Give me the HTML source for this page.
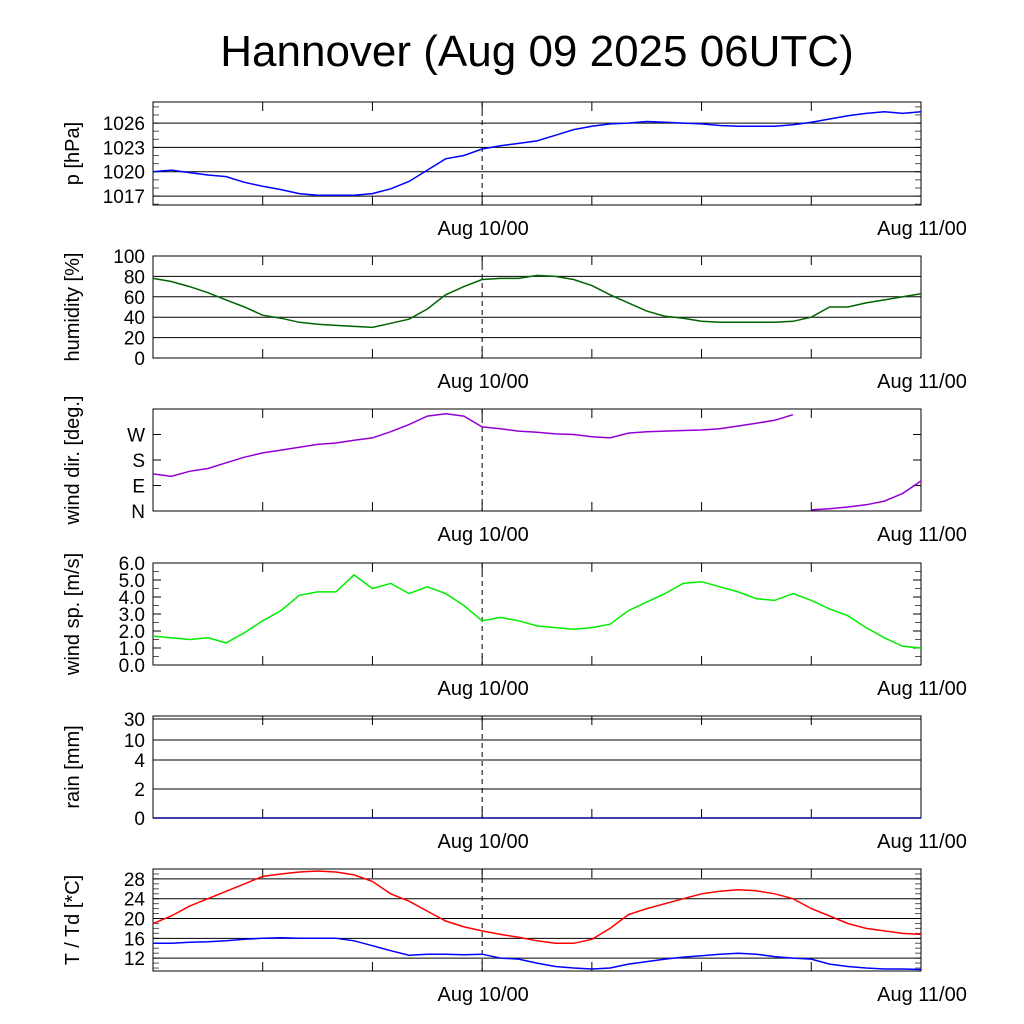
<!DOCTYPE html>
<html><head><meta charset="utf-8"><style>
body{margin:0;background:#fff;}
svg{display:block;font-family:"Liberation Sans",sans-serif;}
</style></head><body>
<svg id="c" width="1024" height="1024" viewBox="0 0 1024 1024">
<text x="537" y="66" font-size="44" text-anchor="middle">Hannover (Aug 09 2025 06UTC)</text>
</svg>
<script>
const hours = [0,1,2,3,4,5,6,7,8,9,10,11,12,13,14,15,16,17,18,19,20,21,22,23,24,25,26,27,28,29,30,31,32,33,34,35,36,37,38,39,40,41,42];
const pressure = [1020.0,1020.2,1019.9,1019.6,1019.4,1018.7,1018.2,1017.8,1017.3,1017.1,1017.1,1017.1,1017.3,1017.9,1018.8,1020.2,1021.6,1022.0,1022.8,1023.2,1023.5,1023.8,1024.5,1025.2,1025.6,1025.9,1026.0,1026.2,1026.1,1026.0,1025.9,1025.7,1025.6,1025.6,1025.6,1025.8,1026.1,1026.5,1026.9,1027.2,1027.4,1027.2,1027.4];
const humidity = [78,75,70,64,57,50,42,39,35,33,32,31,30,34,38,48,62,70,77,78,78,81,80,77,71,62,54,46,41,39,36,35,35,35,35,36,40,50,50,54,57,60,63];
const windDir = [131,122,140,150,170,190,205,215,225,235,240,250,258,280,305,335,343,335,297,290,282,278,272,270,262,258,275,280,282,284,286,290,300,310,320,340,4,8,14,22,35,62,106];
const windSpeed = [1.7,1.6,1.5,1.6,1.3,1.9,2.6,3.2,4.1,4.3,4.3,5.3,4.5,4.8,4.2,4.6,4.2,3.5,2.6,2.8,2.6,2.3,2.2,2.1,2.2,2.4,3.2,3.7,4.2,4.8,4.9,4.6,4.3,3.9,3.8,4.2,3.8,3.3,2.9,2.2,1.6,1.1,1.0];
const rain = [0,0,0,0,0,0,0,0,0,0,0,0,0,0,0,0,0,0,0,0,0,0,0,0,0,0,0,0,0,0,0,0,0,0,0,0,0,0,0,0,0,0,0];
const temp = [19,20.5,22.5,24,25.5,27,28.5,29,29.4,29.6,29.4,28.8,27.5,25,23.5,21.5,19.5,18.3,17.5,16.8,16.2,15.5,15,15,15.8,18,20.8,22,23,24,25,25.5,25.8,25.6,25,24,22,20.5,19,18,17.5,17,16.8];
const dewpoint = [15,15,15.2,15.3,15.5,15.8,16,16.1,16,16,16,15.5,14.5,13.5,12.6,12.8,12.8,12.7,12.8,12,11.8,11,10.3,10,9.8,10,10.8,11.3,11.8,12.2,12.5,12.8,13,12.8,12.3,12,11.8,10.8,10.3,10,9.8,9.8,9.7];
const pTicks = [1017,1020,1023,1026];
const hTicks = [0,20,40,60,80,100];
const dirTicks = [0,90,180,270];
const dirLabels = ["N","E","S","W"];
const wsTicks = [0,1,2,3,4,5,6];
const rainTickLabels = ["0","2","4","10","30"];
const rainTickPos = [0,0.284,0.569,0.765,0.971];
const tTicks = [12,16,20,24,28];
const xLabels = ["Aug 10/00","Aug 11/00"];
const xLabelHours = [18,42];

const svg=document.getElementById('c');
const NS='http://www.w3.org/2000/svg';
const X0=153,X1=921,H0=0,H1=42;
const xs=h=>X0+(h-H0)/(H1-H0)*(X1-X0);
function el(tag,attrs,parent){const e=document.createElementNS(NS,tag);for(const k in attrs)e.setAttribute(k,attrs[k]);(parent||svg).appendChild(e);return e;}

function panel(name,top,bot,ymin,ymax,title,ticks,labels,grid,minorStep,fmt){
  const g=el('g',{});
  
  
  const ys=v=>bot-(v-ymin)/(ymax-ymin)*(bot-top);
  if(minorStep){for(let v=Math.ceil(ymin/minorStep)*minorStep;v<=ymax;v+=minorStep){const y=ys(v);el('line',{x1:X0,x2:X0+6,y1:y,y2:y,stroke:'#555','stroke-width':1},g);el('line',{x1:X1-6,x2:X1,y1:y,y2:y,stroke:'#555','stroke-width':1},g);}}
  ticks.forEach((t,i)=>{const y=ys(t);
    if(grid) el('line',{x1:X0,x2:X1,y1:y,y2:y,stroke:'#000','stroke-width':1},g);
    else {el('line',{x1:X0,x2:X0+8,y1:y,y2:y,stroke:'#000'},g);el('line',{x1:X1-8,x2:X1,y1:y,y2:y,stroke:'#000'},g);}
    const tx=el('text',{x:X0-8,y:y+7,'font-size':19,'text-anchor':'end'},g);
    
    
    tx.textContent=labels?labels[i]:(fmt?fmt(t):t);});
  for(let h=6;h<H1;h+=6){const x=xs(h);el('line',{x1:x,x2:x,y1:bot,y2:bot-9,stroke:'#000'},g);el('line',{x1:x,x2:x,y1:top,y2:top+9,stroke:'#000'},g);}
  el('line',{x1:xs(18),x2:xs(18),y1:top,y2:bot,stroke:'#000','stroke-dasharray':'5,4'},g);
  el('rect',{x:X0,y:top,width:X1-X0,height:bot-top,fill:'none',stroke:'#000','stroke-width':1},g);
  xLabels.forEach((l,i)=>{const t=el('text',{x:xs(xLabelHours[i])+1,y:bot+30,'font-size':20,'text-anchor':'middle'},g);
    
    
    t.textContent=l;});
  const cy=(top+bot)/2;
  const yt=el('text',{x:0,y:0,'font-size':20,'text-anchor':'middle',transform:`translate(${X0-74},${cy}) rotate(-90)`},g);
  
  
  yt.textContent=title;
  return {g,ys,top,bot};
}
function series(p,vals,color,name,wrap){
  let d='',prev=null;
  vals.forEach((v,i)=>{const x=xs(hours[i]),y=p.ys(v);
    if(prev===null||(wrap&&Math.abs(v-prev)>180)) d+=`M${x.toFixed(1)},${y.toFixed(1)}`; else d+=`L${x.toFixed(1)},${y.toFixed(1)}`; prev=v;});
  const cp=el('clipPath',{id:'cp'+name},p.g);el('rect',{x:X0,y:p.top-1,width:X1-X0,height:p.bot-p.top+2},cp);
  const path=el('path',{d,fill:'none',stroke:color,'stroke-width':1.5,'clip-path':`url(#cp${name})`},p.g);
  
  
}
let p=panel('pressure',102,205,1015.9,1028.6,'p [hPa]',pTicks,null,true,1);
series(p,pressure,'#0000ff','pressure');
p=panel('humidity',256,358,0,100,'humidity [%]',hTicks,null,true,0);
series(p,humidity,'#006400','humidity');
p=panel('wind-direction',409,511,0,360,'wind dir. [deg.]',dirTicks,dirLabels,false,0);
series(p,windDir,'#9400d3','wind-direction',true);
p=panel('wind-speed',563,665,0,6,'wind sp. [m/s]',wsTicks,null,false,0.5,v=>v.toFixed(1));
series(p,windSpeed,'#00ee00','wind-speed');
p=panel('rain',716,818,0,1,'rain [mm]',rainTickPos,rainTickLabels,true,0);
series(p,rain,'#00008b','rain');
p=panel('temperature',869,971,9.4,30,'T / Td [*C]',tTicks,null,true,1);
series(p,temp,'#ff0000','temperature');
series(p,dewpoint,'#0000ff','dewpoint');
</script>
</body></html>
